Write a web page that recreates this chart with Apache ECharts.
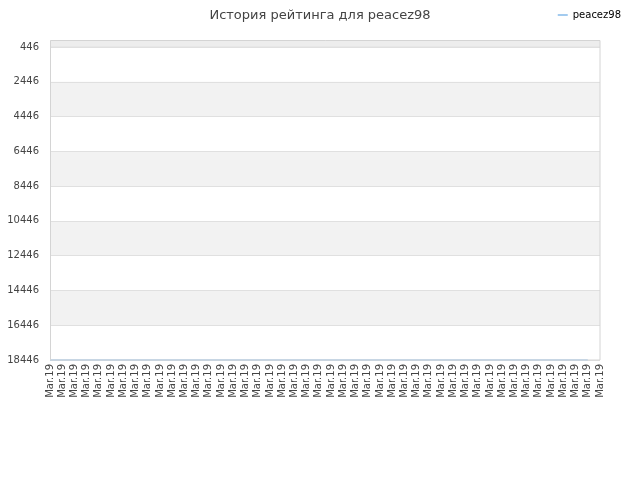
<!DOCTYPE html>
<html><head><meta charset="utf-8">
<script src="https://cdn.jsdelivr.net/npm/echarts@6/dist/echarts.min.js"></script>
<style>html,body{margin:0;padding:0;background:#fff}#c{width:640px;height:480px}</style>
</head><body><div id="c"></div>
<script>
const titleText = 'История рейтинга для peacez98';
const seriesName = 'peacez98';
const categories = ['Mar.19','Mar.19','Mar.19','Mar.19','Mar.19','Mar.19','Mar.19','Mar.19','Mar.19','Mar.19',
'Mar.19','Mar.19','Mar.19','Mar.19','Mar.19','Mar.19','Mar.19','Mar.19','Mar.19','Mar.19',
'Mar.19','Mar.19','Mar.19','Mar.19','Mar.19','Mar.19','Mar.19','Mar.19','Mar.19','Mar.19',
'Mar.19','Mar.19','Mar.19','Mar.19','Mar.19','Mar.19','Mar.19','Mar.19','Mar.19','Mar.19',
'Mar.19','Mar.19','Mar.19','Mar.19','Mar.19','Mar.19'];
const ratings = [18446,18446,18446,18446,18446,18446,18446,18446,18446,18446,
18446,18446,18446,18446,18446,18446,18446,18446,18446,18446,
18446,18446,18446,18446,18446,18446,18446,18446,18446,18446,
18446,18446,18446,18446,18446,18446,18446,18446,18446,18446,
18446,18446,18446,18446,18446];
const yMin = 446, yMax = 18446, yStep = 2000;

const chart = echarts.init(document.getElementById('c'));
chart.setOption({
  animation: false,
  backgroundColor: '#fff',
  title: { text: titleText, left: 'center', top: 4,
    textStyle: { fontFamily: 'DejaVu Sans', fontSize: 13, fontWeight: 'normal', color: '#444' } },
  legend: { right: 14, top: 5, itemWidth: 10, itemHeight: 2, icon: 'rect', itemGap: 5,
    textStyle: { fontFamily: 'DejaVu Sans', fontSize: 10, color: '#000' },
    data: [{ name: seriesName, itemStyle: { color: '#a3cbef' } }] },
  graphic: [
    { type: 'rect', z: -1, shape: { x: 50, y: 40, width: 550, height: 7 }, style: { fill: '#ededed' } },
    { type: 'line', z: 10, shape: { x1: 50, y1: 47, x2: 600, y2: 47 }, style: { stroke: '#e0e0e0', lineWidth: 1 } },
    { type: 'rect', z: 10, shape: { x: 50.5, y: 40.5, width: 549.5, height: 319.5 }, style: { fill: 'none', stroke: '#d4d4d4', lineWidth: 1 } }
  ],
  grid: { left: 50, right: 40, top: 47, bottom: 120 },
  xAxis: { type: 'category', data: categories, boundaryGap: false,
    axisLine: { show: false }, axisTick: { show: false },
    axisLabel: { rotate: 90, interval: 0, fontFamily: 'DejaVu Sans', fontSize: 10, color: '#444', margin: 4 } },
  yAxis: { type: 'value', inverse: true, min: yMin, max: yMax, interval: yStep,
    axisLine: { show: false }, axisTick: { show: false },
    axisLabel: { fontFamily: 'DejaVu Sans', fontSize: 10, color: '#444', margin: 11,
      formatter: function (v) { return String(v); } },
    splitLine: { lineStyle: { color: '#e0e0e0', width: 1 } },
    splitArea: { show: true, areaStyle: { color: ['#ffffff', '#f2f2f2'] } } },
  series: [{ name: seriesName, type: 'line', data: ratings, showSymbol: false, symbol: 'none',
    lineStyle: { color: '#a3cbef', width: 1.5 }, itemStyle: { color: '#a3cbef' } }]
});
</script></body></html>
